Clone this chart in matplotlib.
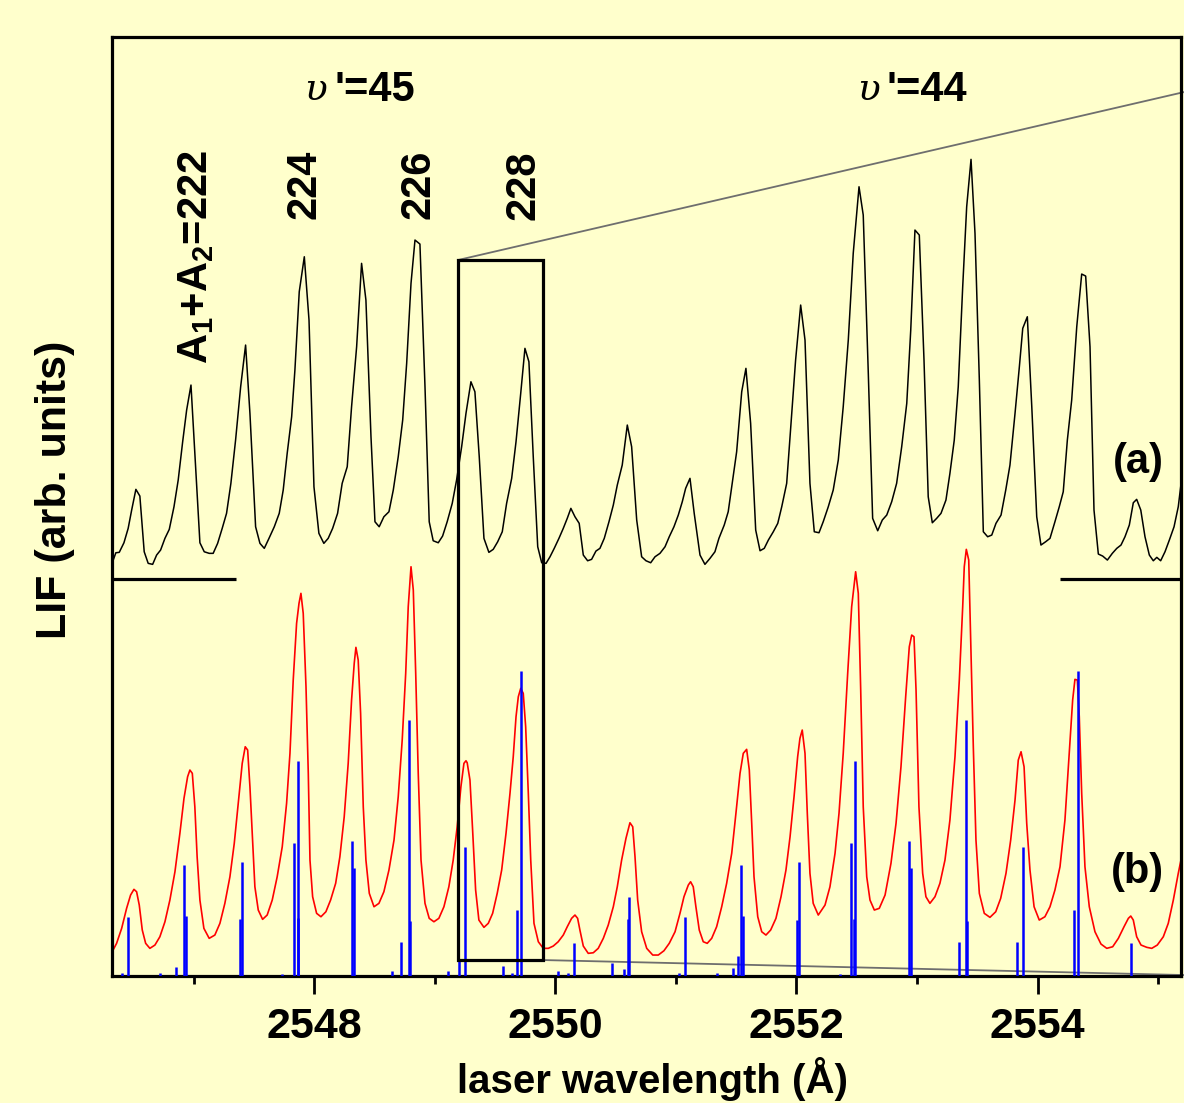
import matplotlib
matplotlib.use("Agg")
import matplotlib.pyplot as plt
from matplotlib.patches import Rectangle
from matplotlib.ticker import MultipleLocator

# ---- data ----
# (a) measured LIF trace
black_wl = [2546.328, 2546.355, 2546.383, 2546.422, 2546.457, 2546.486, 2546.521, 2546.554, 2546.590, 2546.623,
            2546.660, 2546.693, 2546.726, 2546.762, 2546.798, 2546.837, 2546.872, 2546.909, 2546.942, 2546.978,
            2547.010, 2547.052, 2547.088, 2547.129, 2547.162, 2547.199, 2547.237, 2547.273, 2547.309, 2547.348,
            2547.390, 2547.431, 2547.467, 2547.514, 2547.550, 2547.586, 2547.625, 2547.669, 2547.710, 2547.743,
            2547.776, 2547.813, 2547.840, 2547.876, 2547.918, 2547.957,
            2547.998, 2548.039, 2548.080, 2548.116, 2548.153, 2548.194, 2548.232, 2548.274, 2548.310, 2548.352,
            2548.393, 2548.429, 2548.471, 2548.504, 2548.539, 2548.578, 2548.620, 2548.656, 2548.697, 2548.734,
            2548.767, 2548.803, 2548.836, 2548.877, 2548.919, 2548.954,
            2548.987, 2549.029, 2549.065, 2549.103, 2549.145, 2549.181, 2549.223, 2549.259, 2549.300, 2549.333,
            2549.369, 2549.408, 2549.449, 2549.485, 2549.522, 2549.560, 2549.596, 2549.638, 2549.674, 2549.713,
            2549.748, 2549.781, 2549.817, 2549.854, 2549.887, 2549.923, 2549.956, 2549.991,
            2550.030, 2550.066, 2550.099, 2550.129, 2550.163, 2550.198, 2550.232, 2550.268, 2550.301, 2550.337,
            2550.370, 2550.406, 2550.445, 2550.481, 2550.514, 2550.555, 2550.597, 2550.633, 2550.675, 2550.716,
            2550.752, 2550.791, 2550.827, 2550.868, 2550.910, 2550.945, 2550.984,
            2551.020, 2551.053, 2551.081, 2551.117, 2551.152, 2551.200, 2551.241, 2551.283, 2551.324, 2551.357,
            2551.401, 2551.434, 2551.471, 2551.504, 2551.546, 2551.581, 2551.620, 2551.662, 2551.698, 2551.733,
            2551.767, 2551.808, 2551.845, 2551.878, 2551.919, 2551.955,
            2551.993, 2552.035, 2552.071, 2552.112, 2552.148, 2552.187, 2552.222, 2552.264, 2552.305, 2552.347,
            2552.388, 2552.430, 2552.471, 2552.519, 2552.554, 2552.596, 2552.632, 2552.674, 2552.712, 2552.749,
            2552.790, 2552.831, 2552.873, 2552.915, 2552.948, 2552.983,
            2553.019, 2553.058, 2553.093, 2553.127, 2553.163, 2553.199, 2553.240, 2553.273, 2553.309, 2553.342,
            2553.379, 2553.412, 2553.448, 2553.481, 2553.517, 2553.550, 2553.586, 2553.620, 2553.655, 2553.697,
            2553.736, 2553.771, 2553.813, 2553.849, 2553.877, 2553.915, 2553.952, 2553.993,
            2554.028, 2554.067, 2554.103, 2554.144, 2554.180, 2554.213, 2554.247, 2554.283, 2554.325, 2554.366,
            2554.399, 2554.435, 2554.468, 2554.504, 2554.540, 2554.579, 2554.620, 2554.657, 2554.692, 2554.725,
            2554.761, 2554.794, 2554.822, 2554.856, 2554.891, 2554.927, 2554.960, 2554.989,
            2555.021, 2555.057, 2555.093, 2555.132, 2555.167, 2555.187]
black_lif = [4.143, 4.233, 4.237, 4.333, 4.477, 4.66, 4.867, 4.80, 4.243, 4.127,
             4.117, 4.21, 4.26, 4.377, 4.467, 4.693, 4.96, 5.343, 5.66, 5.91,
             5.227, 4.333, 4.243, 4.227, 4.227, 4.327, 4.477, 4.627, 4.927, 5.36,
             5.893, 6.31, 5.627, 4.493, 4.327, 4.277, 4.377, 4.493, 4.627, 4.86,
             5.227, 5.593, 6.06, 6.843, 7.193, 6.56,
             4.893, 4.427, 4.327, 4.377, 4.477, 4.627, 4.927, 5.093, 5.693, 6.293,
             7.127, 6.76, 5.393, 4.543, 4.493, 4.593, 4.643, 4.86, 5.193, 5.56,
             6.127, 6.927, 7.36, 7.32, 5.893, 4.543,
             4.353, 4.333, 4.40, 4.543, 4.727, 4.96, 5.293, 5.627, 5.943, 5.843,
             5.193, 4.377, 4.237, 4.267, 4.343, 4.443, 4.727, 4.977, 5.343, 5.827,
             6.277, 6.143, 5.193, 4.293, 4.133, 4.127, 4.193, 4.277,
             4.377, 4.477, 4.577, 4.677, 4.593, 4.527, 4.21, 4.153, 4.167, 4.25,
             4.277, 4.377, 4.543, 4.71, 4.91, 5.11, 5.51, 5.293, 4.56, 4.193,
             4.153, 4.133, 4.193, 4.227, 4.293, 4.393, 4.493,
             4.61, 4.743, 4.877, 4.977, 4.627, 4.21, 4.117, 4.177, 4.243, 4.377,
             4.51, 4.643, 4.96, 5.243, 5.843, 6.077, 5.527, 4.46, 4.253, 4.277,
             4.36, 4.443, 4.527, 4.693, 4.927, 5.527,
             6.16, 6.71, 6.36, 4.927, 4.443, 4.433, 4.543, 4.693, 4.86, 5.16,
             5.693, 6.36, 7.227, 7.893, 7.61, 6.027, 4.577, 4.453, 4.56, 4.61,
             4.743, 4.927, 5.293, 5.727, 6.46, 7.46,
             7.41, 6.16, 4.793, 4.533, 4.577, 4.627, 4.76, 5.027, 5.36, 5.893,
             6.893, 7.693, 8.167, 7.427, 5.96, 4.443, 4.393, 4.41, 4.527, 4.61,
             4.86, 5.11, 5.627, 6.093, 6.477, 6.593, 5.693, 4.593,
             4.31, 4.343, 4.377, 4.543, 4.693, 4.843, 5.36, 5.76, 6.493, 7.02,
             7.00, 6.293, 4.66, 4.22, 4.20, 4.16, 4.227, 4.277, 4.31, 4.393,
             4.51, 4.733, 4.767, 4.66, 4.393, 4.21, 4.153, 4.187,
             4.153, 4.243, 4.36, 4.493, 4.693, 4.893]

# (b) simulated spectrum
red_wl = [2546.320, 2546.361, 2546.403, 2546.444, 2546.477, 2546.505, 2546.527, 2546.549, 2546.574, 2546.602,
          2546.637, 2546.679, 2546.720, 2546.762, 2546.803, 2546.845, 2546.886, 2546.920, 2546.950, 2546.969,
          2546.989,
          2547.010, 2547.029, 2547.052, 2547.085, 2547.129, 2547.176, 2547.218, 2547.259, 2547.301, 2547.337,
          2547.370, 2547.403, 2547.428, 2547.448, 2547.467, 2547.489, 2547.508, 2547.536, 2547.572, 2547.610,
          2547.652, 2547.693, 2547.735, 2547.771, 2547.799, 2547.826, 2547.854, 2547.874, 2547.890, 2547.909,
          2547.932, 2547.951, 2547.965, 2547.987,
          2548.020, 2548.056, 2548.097, 2548.136, 2548.178, 2548.213, 2548.249, 2548.282, 2548.310, 2548.332,
          2548.346, 2548.365, 2548.385, 2548.407, 2548.429, 2548.457, 2548.496, 2548.537, 2548.578, 2548.620,
          2548.662, 2548.697, 2548.730, 2548.759, 2548.780, 2548.803, 2548.822, 2548.842, 2548.863, 2548.886,
          2548.919, 2548.954,
          2548.993, 2549.034, 2549.076, 2549.117, 2549.153, 2549.186, 2549.217, 2549.242, 2549.259, 2549.269,
          2549.292, 2549.314, 2549.339, 2549.366, 2549.408, 2549.444, 2549.480, 2549.518, 2549.555, 2549.591,
          2549.624, 2549.651, 2549.674, 2549.693, 2549.713, 2549.734, 2549.754, 2549.776, 2549.796, 2549.823,
          2549.859, 2549.900, 2549.942, 2549.983,
          2550.024, 2550.066, 2550.099, 2550.135, 2550.163, 2550.185, 2550.204, 2550.232, 2550.273, 2550.315,
          2550.356, 2550.398, 2550.439, 2550.481, 2550.514, 2550.550, 2550.586, 2550.619, 2550.642, 2550.661,
          2550.683, 2550.716, 2550.758, 2550.808, 2550.854, 2550.901, 2550.945, 2550.993,
          2551.034, 2551.067, 2551.103, 2551.122, 2551.144, 2551.166, 2551.194, 2551.227, 2551.260, 2551.297,
          2551.338, 2551.380, 2551.421, 2551.463, 2551.498, 2551.532, 2551.559, 2551.587, 2551.609, 2551.629,
          2551.648, 2551.679, 2551.712, 2551.747, 2551.786, 2551.830, 2551.872, 2551.913, 2551.947, 2551.980,
          2552.010, 2552.029, 2552.048, 2552.071, 2552.090, 2552.112, 2552.139, 2552.181, 2552.237, 2552.278,
          2552.320, 2552.353, 2552.388, 2552.425, 2552.458, 2552.491, 2552.513, 2552.533, 2552.554, 2552.583,
          2552.610, 2552.646, 2552.687, 2552.735, 2552.784, 2552.826, 2552.867, 2552.906, 2552.936, 2552.956,
          2552.975, 2552.992,
          2553.016, 2553.047, 2553.074, 2553.107, 2553.149, 2553.190, 2553.232, 2553.273, 2553.315, 2553.351,
          2553.379, 2553.392, 2553.409, 2553.429, 2553.445, 2553.467, 2553.489, 2553.517, 2553.558, 2553.605,
          2553.653, 2553.694, 2553.738, 2553.777, 2553.813, 2553.840, 2553.863, 2553.888, 2553.910, 2553.937,
          2553.971,
          2554.014, 2554.061, 2554.103, 2554.144, 2554.186, 2554.227, 2554.263, 2554.291, 2554.310, 2554.330,
          2554.346, 2554.366, 2554.393, 2554.429, 2554.476, 2554.526, 2554.574, 2554.623, 2554.670, 2554.717,
          2554.753, 2554.773, 2554.794, 2554.822, 2554.858, 2554.906, 2554.947, 2554.993,
          2555.043, 2555.084, 2555.126, 2555.167, 2555.209]
red_lif = [0.233, 0.327, 0.477, 0.677, 0.81, 0.867, 0.843, 0.71, 0.46, 0.327,
           0.277, 0.31, 0.393, 0.543, 0.76, 1.043, 1.427, 1.777, 1.993, 2.06,
           2.027,
           1.693, 1.193, 0.76, 0.477, 0.377, 0.41, 0.527, 0.727, 0.993, 1.327,
           1.727, 2.127, 2.293, 2.26, 1.893, 1.36, 0.893, 0.66, 0.567, 0.61,
           0.76, 0.993, 1.293, 1.727, 2.227, 2.96, 3.527, 3.727, 3.827, 3.627,
           2.893, 2.027, 1.16, 0.793,
           0.627, 0.593, 0.643, 0.76, 0.927, 1.193, 1.593, 2.127, 2.76, 3.127,
           3.287, 3.16, 2.627, 1.693, 1.16, 0.827, 0.693, 0.727, 0.843, 1.06,
           1.36, 1.793, 2.36, 3.027, 3.693, 4.093, 3.86, 3.027, 2.027, 1.16,
           0.727, 0.577,
           0.543, 0.577, 0.693, 0.893, 1.16, 1.493, 1.893, 2.127, 2.153, 2.133,
           1.96, 1.46, 0.86, 0.56, 0.487, 0.527, 0.627, 0.827, 1.06, 1.427,
           1.827, 2.193, 2.593, 2.793, 2.877, 2.827, 2.493, 1.827, 1.16, 0.527,
           0.343, 0.277, 0.277, 0.30,
           0.343, 0.41, 0.493, 0.577, 0.61, 0.577, 0.46, 0.30, 0.227, 0.233,
           0.277, 0.377, 0.51, 0.693, 0.893, 1.16, 1.377, 1.533, 1.493, 1.193,
           0.76, 0.443, 0.277, 0.21, 0.21, 0.253, 0.327, 0.443,
           0.627, 0.793, 0.91, 0.943, 0.893, 0.693, 0.46, 0.343, 0.327, 0.377,
           0.493, 0.693, 0.927, 1.227, 1.627, 2.027, 2.227, 2.267, 2.06, 1.527,
           0.993, 0.593, 0.443, 0.41, 0.46, 0.577, 0.793, 1.06, 1.393, 1.793,
           2.193, 2.377, 2.46, 2.227, 1.627, 1.027, 0.727, 0.61, 0.71, 0.893,
           1.227, 1.627, 2.227, 3.027, 3.693, 4.043, 3.827, 2.86, 1.693, 0.993,
           0.76, 0.66, 0.677, 0.81, 1.127, 1.527, 2.093, 2.793, 3.293, 3.41,
           3.393, 2.86,
           1.693, 1.027, 0.793, 0.727, 0.793, 0.927, 1.16, 1.56, 2.193, 2.96,
           3.693, 4.093, 4.267, 4.16, 3.36, 2.293, 1.36, 0.827, 0.627, 0.587,
           0.643, 0.777, 1.027, 1.36, 1.76, 2.16, 2.243, 2.093, 1.527, 1.06,
           0.693,
           0.56, 0.593, 0.693, 0.86, 1.093, 1.56, 2.227, 2.76, 2.967, 2.96,
           2.593, 1.827, 1.093, 0.693, 0.443, 0.32, 0.277, 0.293, 0.377, 0.493,
           0.577, 0.60, 0.56, 0.393, 0.31, 0.287, 0.277, 0.31,
           0.393, 0.527, 0.76, 1.027, 1.277]

# stick spectrum (line positions and strengths)
stick_wl = [2546.403, 2546.455, 2546.720, 2546.853, 2546.917, 2546.934,
            2547.384, 2547.400, 2547.733, 2547.830, 2547.863, 2547.868,
            2548.310, 2548.332, 2548.642, 2548.722, 2548.783, 2548.797,
            2549.107, 2549.203, 2549.250, 2549.563, 2549.638, 2549.679, 2549.713,
            2550.019, 2550.105, 2550.152, 2550.467, 2550.569, 2550.600, 2550.613,
            2551.025, 2551.075, 2551.338, 2551.471, 2551.517, 2551.540, 2551.554,
            2552.002, 2552.021, 2552.361, 2552.452, 2552.477, 2552.488, 2552.931, 2552.950,
            2553.346, 2553.406, 2553.417, 2553.827, 2553.877,
            2554.302, 2554.333, 2554.775]
stick_h = [0.033, 0.587, 0.027, 0.087, 1.11, 0.60,
           0.567, 1.143, 0.02, 1.327, 0.577, 2.15,
           1.353, 1.083, 0.05, 0.343, 2.56, 0.55,
           0.05, 0.153, 1.293, 0.10, 0.027, 0.66, 3.05,
           0.05, 0.033, 0.333, 0.127, 0.067, 0.57, 0.787,
           0.027, 0.587, 0.027, 0.083, 0.20, 1.11, 0.60,
           0.56, 1.143, 0.02, 1.327, 0.57, 2.15, 1.353, 1.083,
           0.343, 2.56, 0.55, 0.343, 1.293,
           0.66, 3.05, 0.333]

# annotations
band_labels = ["A$_1$+A$_2$=222", "224", "226", "228"]
band_label_wl = [2547.019, 2547.923, 2548.861, 2549.732]
vib_labels = ["'=45", "'=44"]
vib_upsilon_wl = [2548.014, 2552.594]
vib_text_wl = [2548.171, 2552.751]
baseline_a = 3.97
base_left = (2546.32, 2547.351)
base_right = (2554.186, 2555.19)
box_wl = (2549.192, 2549.898)
box_lif = (0.16, 7.16)
zoom_end_wl = 2555.215
zoom_end_lif = (8.84, 0.01)

xlim = (2546.32, 2555.19)
ylim = (0.0, 9.39)

bg = "#FFFFCC"
plt.rcParams["font.family"] = ["Liberation Sans", "DejaVu Sans"]
plt.rcParams["font.weight"] = "bold"
plt.rcParams["mathtext.default"] = "regular"

fig = plt.figure(figsize=(11.84, 11.03), dpi=100, facecolor=bg)
ax = fig.add_axes([0.0943, 0.1151, 0.9032, 0.8513], facecolor=bg)

ax.plot(red_wl, red_lif, color="red", lw=1.2, zorder=2)
ax.vlines(stick_wl, 0, stick_h, color="blue", lw=1.8, zorder=3)
ax.plot(black_wl, black_lif, color="black", lw=1.1, zorder=4)

# baselines of trace (a)
ax.plot(base_left, [baseline_a, baseline_a], color="black", lw=2.3, solid_capstyle="butt")
ax.plot(base_right, [baseline_a, baseline_a], color="black", lw=2.3, solid_capstyle="butt")

# zoom box and connector lines
ax.add_patch(Rectangle((box_wl[0], box_lif[0]), box_wl[1] - box_wl[0], box_lif[1] - box_lif[0],
                       fill=False, ec="black", lw=2.3, zorder=5))
ax.plot([box_wl[0], zoom_end_wl], [box_lif[1], zoom_end_lif[0]], color="#6e6e6e", lw=1.3, clip_on=False)
ax.plot([box_wl[1], zoom_end_wl], [box_lif[0], zoom_end_lif[1]], color="#6e6e6e", lw=1.3, clip_on=False)

ax.set_xlim(*xlim)
ax.set_ylim(*ylim)

ax.xaxis.set_major_locator(MultipleLocator(2))
ax.xaxis.set_minor_locator(MultipleLocator(1))
ax.tick_params(axis="x", which="major", direction="out", length=13, width=2, pad=9, labelsize=31)
ax.tick_params(axis="x", which="minor", direction="out", length=6, width=2)
ax.tick_params(axis="y", left=False, labelleft=False)
for s in ax.spines.values():
    s.set_linewidth(2.3)

ax.set_xlabel("laser wavelength (Å)", fontsize=29, fontweight="bold")
ax.xaxis.set_label_coords(0.506, -0.086)
ax.set_ylabel("LIF (arb. units)", fontsize=31, fontweight="bold")
ax.yaxis.set_label_coords(-0.034, 0.5176)

for lab, wl in zip(band_labels, band_label_wl):
    ax.text(wl, 8.26, lab, rotation=90, ha="center", va="top", fontsize=30, fontweight="bold")

for lab, uw, tw in zip(vib_labels, vib_upsilon_wl, vib_text_wl):
    ax.text(uw, 8.86, "υ", ha="center", va="center", fontsize=27, fontweight="normal",
            fontstyle="italic", family="DejaVu Serif")
    ax.text(tw, 8.86, lab, ha="left", va="center", fontsize=30, fontweight="bold")

ax.text(2554.833, 5.14, "(a)", ha="center", va="center", fontsize=30, fontweight="bold")
ax.text(2554.829, 1.04, "(b)", ha="center", va="center", fontsize=30, fontweight="bold")

fig.savefig("out.png", dpi=100, facecolor=bg)
